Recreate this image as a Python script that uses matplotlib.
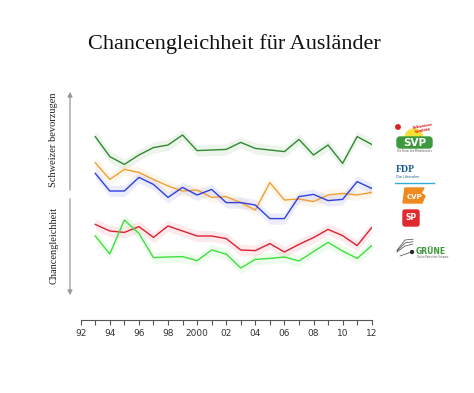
import matplotlib
matplotlib.use("Agg")
import matplotlib.pyplot as plt
import numpy as np
from matplotlib.patches import FancyBboxPatch, Polygon, Wedge, Circle, Rectangle

years = list(range(1993, 2013))
svp = [79.2, 69.2, 65.3, 70.0, 73.7, 75.0, 80.0, 72.2, 72.5, 72.8,
       76.3, 73.3, 72.5, 71.7, 77.8, 70.0, 75.0, 65.8, 79.2, 75.3]
fdp = [66.2, 57.8, 62.8, 61.3, 57.8, 54.5, 52.0, 52.5, 48.8, 49.2,
       46.2, 42.5, 56.2, 47.5, 48.0, 46.7, 50.0, 50.8, 50.0, 51.3]
cvp = [60.8, 52.0, 52.0, 58.8, 55.3, 48.8, 53.8, 50.0, 52.8, 46.2,
       46.2, 45.0, 38.2, 38.2, 49.2, 50.3, 47.2, 47.8, 56.7, 53.3]
sp = [35.3, 32.0, 31.3, 34.2, 28.8, 34.5, 32.0, 29.5, 29.5, 28.2,
      22.5, 22.2, 25.7, 21.5, 25.3, 28.7, 32.8, 29.7, 24.7, 33.7]
gruene = [29.5, 20.5, 37.5, 30.8, 18.7, 19.0, 19.2, 17.2, 22.5, 20.5,
          13.5, 17.8, 18.3, 19.0, 17.0, 21.7, 26.3, 22.0, 18.3, 24.7]

series = [
    ("SVP", svp, "#2f8a2f"),
    ("FDP", fdp, "#f0a030"),
    ("CVP", cvp, "#3040e0"),
    ("SP", sp, "#e02030"),
    ("Grüne", gruene, "#3ee03e"),
]
band = 2.8

tick_years = list(range(1992, 2013))
tick_labels = ["92", "", "94", "", "96", "", "98", "", "2000", "", "02", "",
               "04", "", "06", "", "08", "", "10", "", "12"]

W, H = 474, 393
fig = plt.figure(figsize=(W / 100, H / 100), dpi=100)

# main axes
left_px, right_px = 80.7, 371.7
top_px, bot_px = 95, 295
ax = fig.add_axes([left_px / W, (H - bot_px) / H, (right_px - left_px) / W, (bot_px - top_px) / H])
ax.set_xlim(1992, 2012)
ax.set_ylim(0, 100)

for name, vals, col in series:
    v = np.array(vals)
    ax.fill_between(years, v - band, v + band, color=col, alpha=0.09, lw=0)
    ax.plot(years, v, color=col, lw=1.0)

for s in ["top", "right", "left"]:
    ax.spines[s].set_visible(False)
ax.spines["bottom"].set_position(("outward", 18))
ax.spines["bottom"].set_color("#555555")
ax.spines["bottom"].set_linewidth(0.8)
ax.set_yticks([])
ax.set_xticks(tick_years)
ax.set_xticklabels(tick_labels)
ax.tick_params(axis="x", direction="out", length=3.5, width=0.8, color="#555555",
               labelsize=6.5, labelcolor="#333333", pad=3)

# overlay axes in pixel coordinates
ov = fig.add_axes([0, 0, 1, 1])
ov.set_xlim(0, W)
ov.set_ylim(H, 0)
ov.axis("off")

ov.text(234.5, 44, "Chancengleichheit für Ausländer", ha="center", va="center",
        fontsize=16, family="Liberation Serif", color="#111111")

# vertical arrows
ov.annotate("", xy=(70, 89), xytext=(70, 193),
            arrowprops=dict(arrowstyle="-|>", color="#999999", lw=0.9, mutation_scale=7))
ov.annotate("", xy=(70, 298), xytext=(70, 196),
            arrowprops=dict(arrowstyle="-|>", color="#999999", lw=0.9, mutation_scale=7))

ov.text(54, 140, "Schweizer bevorzugen", rotation=90, ha="center", va="center",
        fontsize=7.5, family="Liberation Serif", color="#222222")
ov.text(54, 245, "Chancengleichheit", rotation=90, ha="center", va="center",
        fontsize=7.5, family="Liberation Serif", color="#222222")

# --- logos ---
# SVP
ov.add_patch(Wedge((414, 138), 9, 180, 360, color="#f4e23a", zorder=2))
ov.add_patch(Circle((398, 127), 2.2, color="#d82020", zorder=3))
ov.text(423, 126, "Schweizer", fontsize=2.6, color="#d82020", ha="center", va="center",
        fontweight="bold", rotation=10)
ov.text(423, 130, "Qualität", fontsize=2.6, color="#d82020", ha="center", va="center",
        fontweight="bold", rotation=10)
ov.add_patch(FancyBboxPatch((397, 137), 35, 11, boxstyle="round,pad=0,rounding_size=3",
                            color="#3c9a3c", zorder=3))
ov.text(414.5, 143, "SVP", fontsize=7.5, color="white", ha="center", va="center",
        fontweight="bold", zorder=4)
ov.text(414.5, 151.5, "Die Partei des Mittelstandes", fontsize=1.8, color="#555555",
        ha="center", va="center")

# FDP
ov.text(396, 170, "FDP", fontsize=7, color="#1a5a9a", ha="left", va="center",
        fontweight="bold", family="Liberation Serif")
ov.text(396, 177, "Die Liberalen", fontsize=2.5, color="#1a5a9a", ha="left", va="center")
ov.plot([395, 434], [182.5, 182.5], color="#30b0d8", lw=1.0)

# CVP
ov.add_patch(Polygon([(405, 188), (424, 188), (421, 193), (425, 196), (422, 203), (403, 203)],
                     closed=True, color="#f08a20", zorder=3))
ov.text(414, 197, "CVP", fontsize=5, color="white", ha="center", va="center",
        fontweight="bold", zorder=4)

# SP
ov.add_patch(FancyBboxPatch((403, 210), 16, 16, boxstyle="round,pad=0,rounding_size=2",
                            color="#e02a30", zorder=3))
ov.text(411, 218, "SP", fontsize=5.5, color="white", ha="center", va="center",
        fontweight="bold", zorder=4)

# GRÜNE
ov.text(416, 252, "GRÜNE", fontsize=5.5, color="#3a9a3a", ha="left", va="center",
        fontweight="bold")
ov.text(417, 257.5, "Grüne Partei der Schweiz", fontsize=1.8, color="#555555",
        ha="left", va="center")
for dy in (0, 3, 6):
    ov.plot([397, 405, 413], [252 - dy * 0.3, 246 - dy, 244 - dy * 0.8], color="#444444", lw=0.5)
ov.plot([400, 414], [256, 251], color="#444444", lw=0.5)
ov.add_patch(Circle((412, 252), 1.4, color="#222222"))

fig.savefig("out.png", dpi=100)
